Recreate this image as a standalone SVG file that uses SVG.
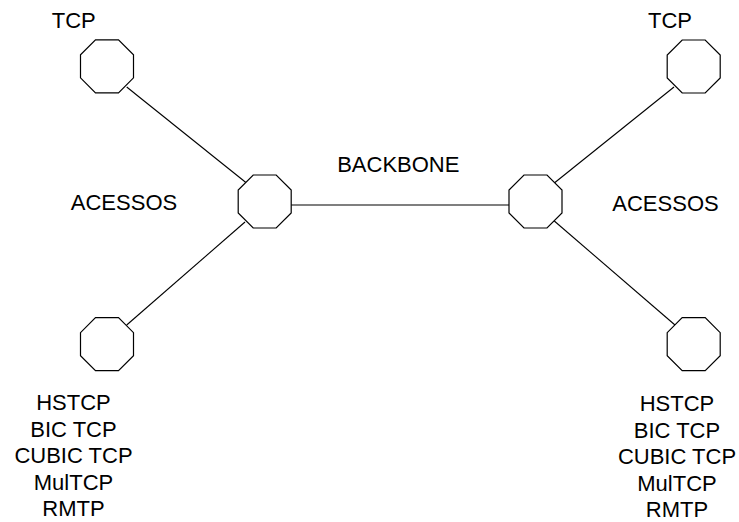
<svg xmlns="http://www.w3.org/2000/svg" xmlns:xlink="http://www.w3.org/1999/xlink" width="739" height="522" viewBox="0 0 739 522">
  <style>
    .oct { fill: #ffffff; stroke: #000000; stroke-width: 1.2; }
    .link { stroke: #000000; stroke-width: 1.1; fill: none; }
    .lbl { font-family: "Liberation Sans", Arial, sans-serif; font-size: 22px; fill: #000000; text-anchor: middle; }
  </style>
  <defs>
    <polygon id="octagon" points="-11.5,-26.5 11.5,-26.5 26.5,-11.5 26.5,11.5 11.5,26.5 -11.5,26.5 -26.5,11.5 -26.5,-11.5"/>
  </defs>
  <rect width="739" height="522" fill="#ffffff"/>

  <!-- links -->
  <g id="connectors">
    <line class="link" x1="126.7" y1="87" x2="246.5" y2="183"/>
    <line class="link" x1="245" y1="222" x2="126.7" y2="325"/>
    <line class="link" x1="291" y1="205" x2="509" y2="205"/>
    <line class="link" x1="554.3" y1="183" x2="674" y2="87"/>
    <line class="link" x1="554.3" y1="221" x2="675" y2="325"/>
  </g>

  <!-- routers -->
  <g id="tcp-left">
    <use xlink:href="#octagon" class="oct" x="107" y="66.3"/>
    <text class="lbl" x="73.8" y="28.3">TCP</text>
  </g>
  <g id="tcp-right">
    <use xlink:href="#octagon" class="oct" x="693.7" y="66.5"/>
    <text class="lbl" x="670" y="28.3">TCP</text>
  </g>
  <g id="core-left">
    <use xlink:href="#octagon" class="oct" x="264.7" y="201.5"/>
  </g>
  <g id="core-right">
    <use xlink:href="#octagon" class="oct" x="535.5" y="201.5"/>
  </g>
  <g id="variants-left">
    <use xlink:href="#octagon" class="oct" x="107" y="344.2"/>
    <text class="lbl" x="73.5" y="410">HSTCP</text>
    <text class="lbl" x="73.5" y="436.5">BIC TCP</text>
    <text class="lbl" x="73.5" y="463">CUBIC TCP</text>
    <text class="lbl" x="73.5" y="489.5">MulTCP</text>
    <text class="lbl" x="73.5" y="515.5">RMTP</text>
  </g>
  <g id="variants-right">
    <use xlink:href="#octagon" class="oct" x="693.7" y="344.2"/>
    <text class="lbl" x="677" y="411">HSTCP</text>
    <text class="lbl" x="677" y="437.5">BIC TCP</text>
    <text class="lbl" x="677" y="464">CUBIC TCP</text>
    <text class="lbl" x="677" y="490.5">MulTCP</text>
    <text class="lbl" x="677" y="517">RMTP</text>
  </g>

  <!-- segment labels -->
  <g id="labels">
    <text class="lbl" x="124" y="210">ACESSOS</text>
    <text class="lbl" x="398.3" y="171.7">BACKBONE</text>
    <text class="lbl" x="665.5" y="210.5">ACESSOS</text>
  </g>
</svg>
